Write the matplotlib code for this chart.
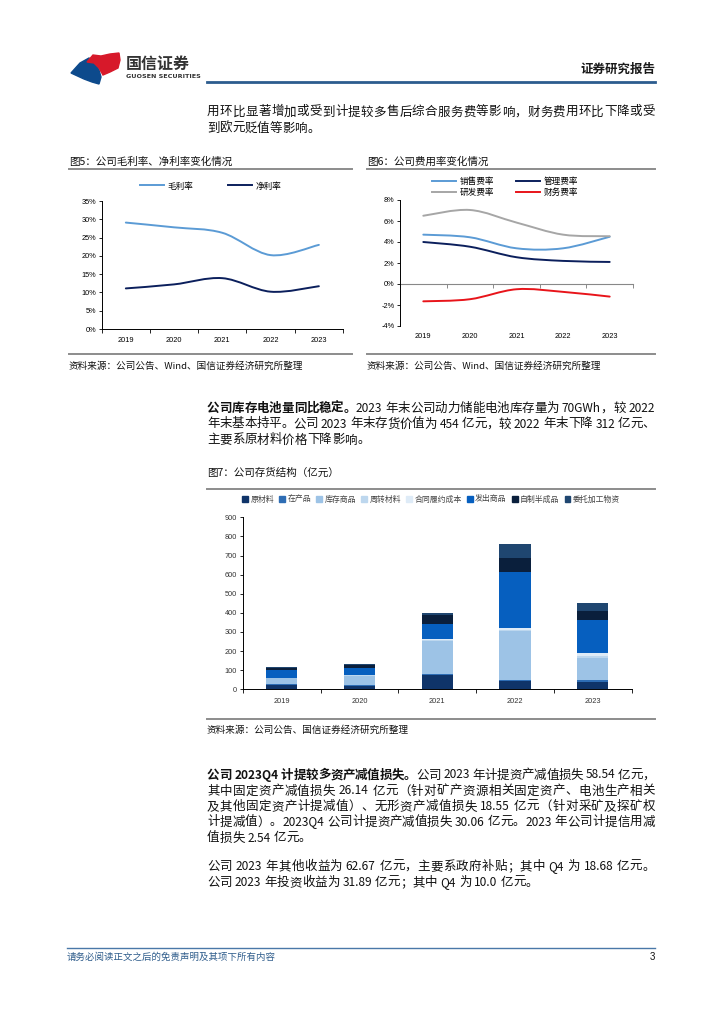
import re
import numpy as np
import matplotlib
matplotlib.use("Agg")
import matplotlib.pyplot as plt
from matplotlib.lines import Line2D
from matplotlib.patches import Polygon, Patch, PathPatch
from matplotlib.path import Path
from matplotlib.font_manager import FontProperties

plt.rcParams['font.family'] = ['Noto Sans CJK SC', 'DejaVu Sans']

W, H = 724, 1024

# ---- data ----
years = ['2019', '2020', '2021', '2022', '2023']

gross_margin = [29.1, 27.8, 26.3, 20.2, 23.0]
net_margin = [11.1, 12.2, 13.9, 10.2, 11.7]

sales_rate = [4.7, 4.45, 3.4, 3.4, 4.5]
admin_rate = [4.0, 3.55, 2.55, 2.2, 2.1]
rnd_rate = [6.5, 7.05, 5.85, 4.7, 4.55]
finance_rate = [-1.65, -1.45, -0.5, -0.75, -1.2]

inv_labels = ['原材料', '在产品', '库存商品', '周转材料', '合同履约成本', '发出商品', '自制半成品', '委托加工物资']
raw_mat = [24, 19, 77, 45, 38]
wip = [4, 5, 4, 4, 10]
finished = [30, 48, 172, 258, 117]
turnover = [2, 2, 5, 5, 8]
contract_cost = [1, 1, 7, 8, 15]
shipped = [40, 37, 77, 293, 175]
semi = [9, 13, 45, 74, 48]
outsourced = [5, 7, 14, 75, 43]

inv_colors = ['#0F3469', '#2E6DB4', '#9DC3E6', '#BDD7EE', '#DEEBF7', '#065FBF', '#0A1F3C', '#1F4670']

fig = plt.figure(figsize=(W / 100, H / 100), dpi=100)
renderer = fig.canvas.get_renderer()


def fx(x):
    return x / W


def fy(y):
    return 1 - y / H


def ptext(x, y, s, **kw):
    kw.setdefault('va', 'center')
    return fig.text(fx(x), fy(y), s, **kw)


def hline(x0, x1, y, **kw):
    fig.add_artist(Line2D([fx(x0), fx(x1)], [fy(y), fy(y)], transform=fig.transFigure, **kw))


def add_axes(left, top, right, bottom):
    return fig.add_axes([fx(left), fy(bottom), (right - left) / W, (bottom - top) / H])


BODY_SIZE = 9.0
TEXT_LEFT, TEXT_W = 207, 448
FAMILY = ['Noto Sans CJK SC', 'DejaVu Sans']


def advance(s, size, weight):
    prop = FontProperties(family=FAMILY, size=size, weight=weight)
    w1 = renderer.get_text_width_height_descent(s + '国', prop, ismath=False)[0]
    w0 = renderer.get_text_width_height_descent('国', prop, ismath=False)[0]
    return w1 - w0


def body_line(y, segments, justify=True):
    # lay out a line token by token so justified lines fill the column
    toks = []
    for s, bold in segments:
        for m in re.finditer(r'[A-Za-z0-9.]+| |.', s):
            toks.append((m.group(), bold))
    items = []
    total = 0.0
    for s, bold in toks:
        if s == ' ':
            items.append((None, 3.0))
            total += 3.0
            continue
        weight = 'bold' if bold else 'normal'
        size = BODY_SIZE * 0.95 if re.match(r'[A-Za-z0-9.]', s) else BODY_SIZE
        t = ptext(0, y, s, fontsize=size, color='#111111', fontweight=weight)
        w = advance(s, size, weight)
        items.append((t, w))
        total += w
    gap = (TEXT_W - total) / (len(items) - 1) if justify and len(items) > 1 else 0.0
    x = TEXT_LEFT
    for t, w in items:
        if t is not None:
            t.set_position((fx(x), fy(y)))
        x += w + gap


def smooth_line(ax, xs, ys, color, lw, label=None):
    # cubic bezier through the points (spreadsheet-style smoothed line)
    pts = np.column_stack([xs, ys]).astype(float)
    ext = np.vstack([pts[0], pts, pts[-1]])
    verts = [pts[0]]
    codes = [Path.MOVETO]
    for i in range(len(pts) - 1):
        p0, p1, p2, p3 = ext[i], ext[i + 1], ext[i + 2], ext[i + 3]
        verts += [p1 + (p2 - p0) / 6, p2 - (p3 - p1) / 6, p2]
        codes += [Path.CURVE4] * 3
    ax.add_patch(PathPatch(Path(verts, codes), fill=False, edgecolor=color, lw=lw,
                           capstyle='round', joinstyle='round'))
    return Line2D([], [], color=color, lw=lw, label=label)


tick_font = {'family': 'Liberation Sans', 'size': 5.3}

# ---- header ----
fig.add_artist(Polygon([(fx(x), fy(y)) for x, y in
                        [(71, 73), (80, 63), (89, 58), (95, 63), (99, 70), (101, 77), (99, 84), (92, 82), (84, 79)]],
                       closed=True, transform=fig.transFigure, color='#0D4A8C'))
fig.add_artist(Polygon([(fx(x), fy(y)) for x, y in
                        [(87, 62), (93, 55), (101, 56), (110, 54), (119, 53), (120, 60), (118, 68), (110, 72), (103, 75), (99, 68), (94, 63)]],
                       closed=True, transform=fig.transFigure, color='#D7192A'))
ptext(126, 64, '国信证券', fontsize=11.5, fontweight='bold', color='#333333')
ptext(126, 77, 'GUOSEN SECURITIES', fontsize=4.6, color='#333333', family='DejaVu Sans', fontweight='bold')
ptext(655, 69, '证券研究报告', fontsize=9, fontweight='bold', color='#1a1a1a', ha='right')
hline(207, 655, 82, color='#2C5C8E', lw=2.0)

body_line(112, [('用环比显著增加或受到计提较多售后综合服务费等影响，财务费用环比下降或受', False)])
body_line(128.5, [('到欧元贬值等影响。', False)], justify=False)

# ---- figure 5 ----
cap = dict(fontsize=7.6, color='#111111')
src = dict(fontsize=6.9, color='#111111')
ptext(69, 161.5, '图5：公司毛利率、净利率变化情况', **cap)
hline(69, 352, 168.5, color='#8c8c8c', lw=1.4)
hline(69, 352, 354, color='#8c8c8c', lw=1.4)
ptext(69, 366, '资料来源：公司公告、Wind、国信证券经济研究所整理', **src)

ax5 = add_axes(101.7, 201, 343, 329)
xs = np.arange(len(years))
h1 = smooth_line(ax5, xs, gross_margin, '#5B9BD5', 1.4, '毛利率')
h2 = smooth_line(ax5, xs, net_margin, '#0B1F5C', 1.4, '净利率')
ax5.set_xlim(-0.5, len(years) - 0.5)
ax5.set_ylim(0, 35)
ax5.set_yticks(np.arange(0, 36, 5))
ax5.set_yticklabels([f'{v}%' for v in range(0, 36, 5)], fontdict=tick_font)
ax5.set_xticks(xs)
ax5.set_xticklabels(years, fontdict=tick_font)
ax5.set_xticks(np.arange(-0.5, len(years)), minor=True)
ax5.tick_params(axis='x', which='major', length=0, pad=6)
ax5.tick_params(axis='x', which='minor', length=3, width=0.6, direction='out')
ax5.tick_params(axis='y', length=2.5, width=0.6, direction='out', pad=1.5)
for s in ['top', 'right']:
    ax5.spines[s].set_visible(False)
for s in ['left', 'bottom']:
    ax5.spines[s].set_linewidth(0.7)
fig.legend(handles=[h1, h2], loc='center', bbox_to_anchor=(fx(211), fy(186)), ncol=2, frameon=False,
           fontsize=6.2, handlelength=2.8, handletextpad=0.4, columnspacing=4.0, borderpad=0)

# ---- figure 6 ----
ptext(367, 161.5, '图6：公司费用率变化情况', **cap)
hline(367, 655, 168.5, color='#8c8c8c', lw=1.4)
hline(367, 655, 354, color='#8c8c8c', lw=1.4)
ptext(367, 366, '资料来源：公司公告、Wind、国信证券经济研究所整理', **src)

ax6 = add_axes(400, 200, 633, 326)
g1 = smooth_line(ax6, xs, sales_rate, '#5B9BD5', 1.4, '销售费率')
g2 = smooth_line(ax6, xs, admin_rate, '#0B1F5C', 1.4, '管理费率')
g3 = smooth_line(ax6, xs, rnd_rate, '#A6A6A6', 1.4, '研发费率')
g4 = smooth_line(ax6, xs, finance_rate, '#E8141A', 1.4, '财务费率')
ax6.set_xlim(-0.5, len(years) - 0.5)
ax6.set_ylim(-4, 8)
ax6.set_yticks(np.arange(-4, 9, 2))
ax6.set_yticklabels([f'{v}%' for v in range(-4, 9, 2)], fontdict=tick_font)
ax6.set_xticks(xs)
ax6.set_xticklabels(years, fontdict=tick_font)
ax6.tick_params(axis='x', which='major', length=0, pad=5)
ax6.tick_params(axis='y', length=2.5, width=0.6, direction='out', pad=1.5)
for s in ['top', 'right', 'bottom']:
    ax6.spines[s].set_visible(False)
ax6.spines['left'].set_linewidth(0.7)
zero_ax = ax6.secondary_xaxis(4 / 12)
zero_ax.set_xticks(np.arange(-0.5, len(years)))
zero_ax.set_xticklabels([])
zero_ax.tick_params(length=3, width=0.6, direction='out', color='#777777')
zero_ax.spines['bottom'].set_color('#888888')
zero_ax.spines['bottom'].set_linewidth(0.8)
fig.legend(handles=[g1, g3, g2, g4], loc='center', bbox_to_anchor=(fx(505), fy(187)), ncol=2, frameon=False,
           fontsize=6.2, handlelength=2.8, handletextpad=0.4, columnspacing=2.6, labelspacing=0.15, borderpad=0)

# ---- paragraph 2 ----
body_line(408.5, [('公司库存电池量同比稳定。', True), ('2023 年末公司动力储能电池库存量为 70GWh，较 2022', False)])
body_line(424, [('年末基本持平。公司 2023 年末存货价值为 454 亿元，较 2022 年末下降 312 亿元、', False)])
body_line(440, [('主要系原材料价格下降影响。', False)], justify=False)

# ---- figure 7 ----
ptext(207, 472.5, '图7：公司存货结构（亿元）', **cap)
hline(207, 655, 489, color='#8c8c8c', lw=1.4)
hline(207, 655, 719, color='#8c8c8c', lw=1.4)
ptext(207, 730.5, '资料来源：公司公告、国信证券经济研究所整理', **src)

ax7 = add_axes(242.7, 517.3, 631.7, 689.3)
series = [raw_mat, wip, finished, turnover, contract_cost, shipped, semi, outsourced]
bottom = np.zeros(len(years))
for vals, col, lab in zip(series, inv_colors, inv_labels):
    ax7.bar(xs, vals, width=0.4, bottom=bottom, color=col, label=lab, linewidth=0)
    bottom += np.array(vals)
ax7.set_xlim(-0.5, len(years) - 0.5)
ax7.set_ylim(0, 900)
ax7.set_yticks(np.arange(0, 901, 100))
ax7.set_yticklabels([str(v) for v in range(0, 901, 100)], fontdict=tick_font, color='#333333')
ax7.set_xticks(xs)
ax7.set_xticklabels(years, fontdict=tick_font, color='#333333')
ax7.set_xticks(np.arange(-0.5, len(years)), minor=True)
ax7.tick_params(axis='x', which='major', length=0, pad=6)
ax7.tick_params(axis='x', which='minor', length=3, width=0.6, direction='out')
ax7.tick_params(axis='y', length=2.5, width=0.6, direction='out', pad=1.5)
for s in ['top', 'right']:
    ax7.spines[s].set_visible(False)
for s in ['left', 'bottom']:
    ax7.spines[s].set_linewidth(0.7)
leg_handles = [Patch(color=c, label=l) for c, l in zip(inv_colors, inv_labels)]
fig.legend(handles=leg_handles, loc='center', bbox_to_anchor=(fx(431), fy(499)), ncol=8, frameon=False,
           fontsize=5.7, handlelength=0.75, handleheight=0.75, handletextpad=0.3, columnspacing=0.65,
           borderpad=0, labelcolor='#444444')

# ---- paragraph 3 / 4 ----
body_line(775, [('公司 2023Q4 计提较多资产减值损失。', True), ('公司 2023 年计提资产减值损失 58.54 亿元，', False)])
body_line(791, [('其中固定资产减值损失 26.14 亿元（针对矿产资源相关固定资产、电池生产相关', False)])
body_line(806.5, [('及其他固定资产计提减值）、无形资产减值损失 18.55 亿元（针对采矿及探矿权', False)])
body_line(822, [('计提减值）。2023Q4 公司计提资产减值损失 30.06 亿元。2023 年公司计提信用减', False)])
body_line(838, [('值损失 2.54 亿元。', False)], justify=False)
body_line(866.5, [('公司 2023 年其他收益为 62.67 亿元，主要系政府补贴；其中 Q4 为 18.68 亿元。', False)])
body_line(882.5, [('公司 2023 年投资收益为 31.89 亿元；其中 Q4 为 10.0 亿元。', False)], justify=False)

# ---- footer ----
hline(67, 655, 948, color='#4A78A8', lw=1.0)
ptext(67, 957, '请务必阅读正文之后的免责声明及其项下所有内容', fontsize=6.8, color='#2F5D8C', style='italic')
ptext(655, 957, '3', fontsize=7, color='#111111', ha='right', family='Liberation Sans')

fig.savefig('out.png', dpi=100)
